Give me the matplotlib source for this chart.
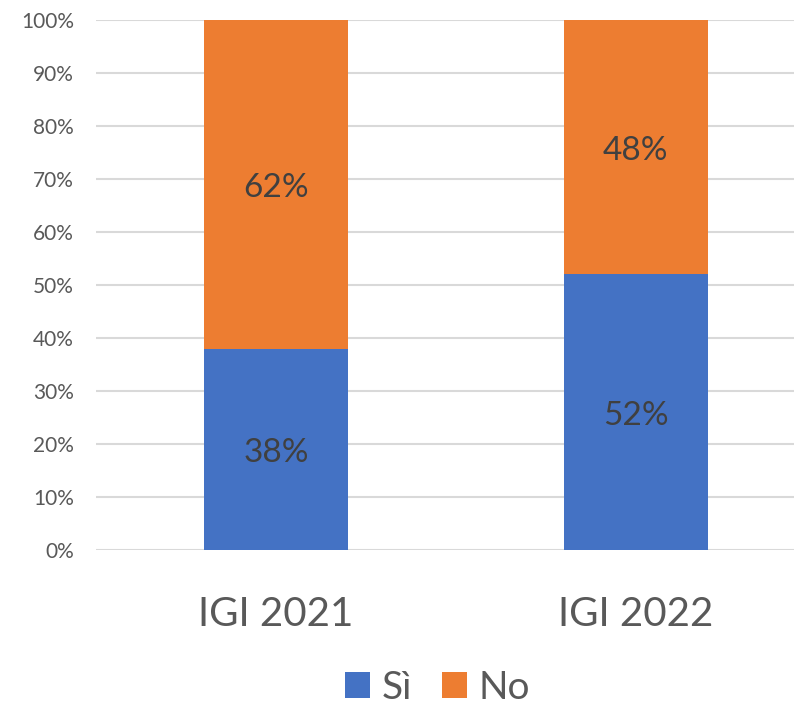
import numpy as np
import matplotlib.pyplot as plt

categories = ["IGI 2021", "IGI 2022"]
si = [38, 52]
no = [62, 48]

plt.rcParams['font.family'] = ['Lato', 'DejaVu Sans']

fig = plt.figure(figsize=(7.94, 7.05), dpi=100)
ax = fig.add_axes([96/794, 155/705, 1 - 96/794, 530/705])

x = np.arange(len(categories))
b1 = ax.bar(x, si, width=0.4, color="#4472C4", label="Sì", zorder=3)
b2 = ax.bar(x, no, width=0.4, bottom=si, color="#ED7D31", label="No", zorder=3)

for i in range(len(categories)):
	ax.annotate(f"{si[i]}%", (x[i], si[i] / 2), xytext=(0, -3), textcoords="offset points",
		ha="center", va="center", fontsize=24, color="#404040", zorder=4)
	ax.annotate(f"{no[i]}%", (x[i], si[i] + no[i] / 2), xytext=(0, -3), textcoords="offset points",
		ha="center", va="center", fontsize=24, color="#404040", zorder=4)

ax.set_xlim(-0.5, 1.44)
ax.set_ylim(0, 100)
ax.set_yticks(range(0, 101, 10))
ax.set_yticklabels([f"{v}%" for v in range(0, 101, 10)], fontsize=15, color="#595959")
ax.set_xticks(x)
ax.set_xticklabels(categories, fontsize=29, color="#595959")
ax.tick_params(axis="both", length=0)
ax.tick_params(axis="y", pad=16)
ax.tick_params(axis="x", pad=33)
ax.yaxis.grid(True, color="#D9D9D9", linewidth=1.5, zorder=0)
for s in ax.spines.values():
	s.set_visible(False)

leg = fig.legend(handles=[b1, b2], loc="center", ncol=2, frameon=False, fontsize=28,
	handlelength=0.65, handleheight=0.65, handletextpad=0.3, columnspacing=0.75,
	bbox_to_anchor=(0.551, 17/705), bbox_transform=fig.transFigure)
for t in leg.get_texts():
	t.set_color("#595959")

plt.savefig("out.png", dpi=100)
